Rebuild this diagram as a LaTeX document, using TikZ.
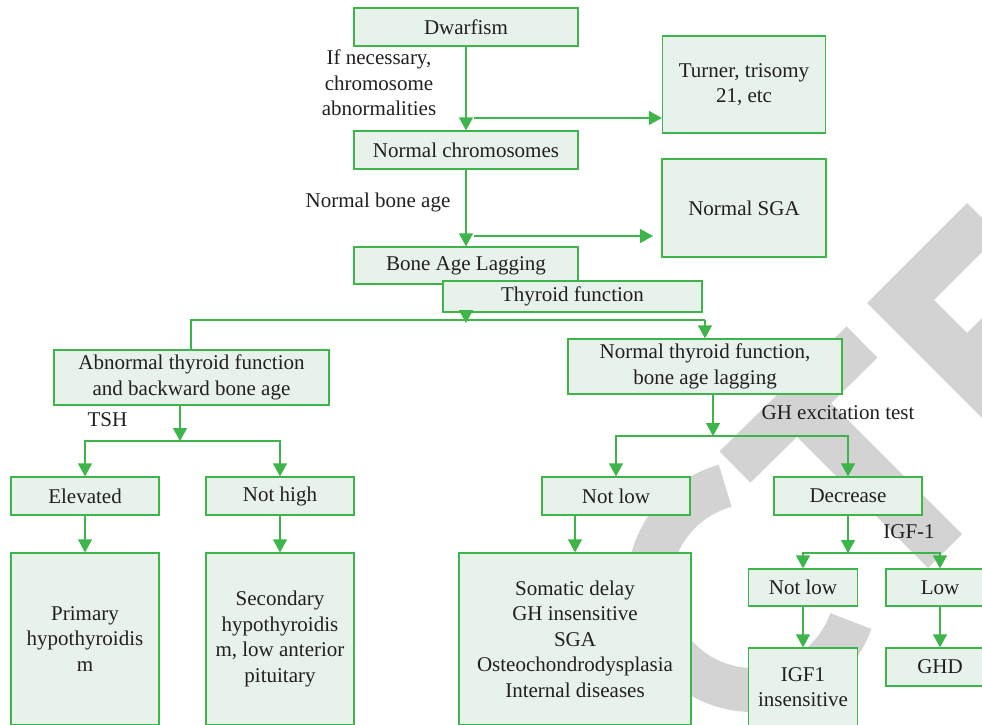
\documentclass[tikz,border=0pt]{standalone}
\usepackage{fontspec}
\setmainfont{Liberation Serif}
\usetikzlibrary{arrows.meta}
\definecolor{gline}{RGB}{61,181,74}
\definecolor{gfill}{RGB}{231,242,234}
\definecolor{wm}{RGB}{211,211,211}
\definecolor{tx}{RGB}{35,31,32}
\begin{document}
\begin{tikzpicture}[x=1pt,y=-1pt,
  box/.style={draw=gline, fill=gfill, line width=1.3pt, inner sep=0pt, align=center, text=tx, font=\fontsize{21}{25.5}\selectfont},
  lbl/.style={inner sep=0pt, align=center, text=tx, font=\fontsize{21}{25.5}\selectfont},
  ln/.style={draw=gline, line width=1.4pt},
  arr/.style={ln, -{Triangle[length=13pt,width=14pt]}}]
\useasboundingbox (0,0) rectangle (982,724);
\clip (0,0) rectangle (982,724);
% watermark
\fill[wm] (867,303) -- (967,203) -- (999,235) -- (934,300) -- (967,333) -- (1067,233) -- (1200,400) -- (1100,536) -- cycle;
\draw[wm, line width=44pt] (735,467) -- (862,342);
\draw[wm, line width=48pt] (798,404) -- (945,551);
\draw[wm, line width=44pt] plot[domain=19.7:254.5, samples=80] ({753+104*cos(\x)}, {586+104*sin(\x)});
% boxes
\node[box, minimum width=224, minimum height=38] (dwarf) at (466,27) {Dwarfism};
\node[box, minimum width=163, minimum height=97] (turner) at (744,84.5) {Turner, trisomy\\21, etc};
\node[box, minimum width=224, minimum height=38] (normchr) at (466,150) {Normal chromosomes};
\node[box, minimum width=164, minimum height=98] (nsga) at (744,208) {Normal SGA};
\node[box, minimum width=224, minimum height=37] (bal) at (466,265.5) {Bone Age Lagging};
\node[box, minimum width=259, minimum height=31] (thy) at (572.5,296.5) {Thyroid function};
\node[box, minimum width=275, minimum height=55] (abn) at (191.5,377.5) {Abnormal thyroid function\\and backward bone age};
\node[box, minimum width=274, minimum height=55] (nth) at (705,366.5) {Normal thyroid function,\\bone age lagging};
\node[box, minimum width=148, minimum height=38] (elev) at (85,496) {Elevated};
\node[box, minimum width=148, minimum height=38] (noth) at (280,496) {Not high};
\node[box, minimum width=148, minimum height=172] (prim) at (85,639) {Primary\\hypothyroidis\\m};
\node[box, minimum width=148, minimum height=172] (sec) at (280,639) {Secondary\\hypothyroidis\\m, low anterior\\pituitary};
\node[box, minimum width=148, minimum height=38] (nl1) at (616,496) {Not low};
\node[box, minimum width=148, minimum height=38] (dec) at (848,496) {Decrease};
\node[box, minimum width=232, minimum height=172] (som) at (575,639) {Somatic delay\\GH insensitive\\SGA\\Osteochondrodysplasia\\Internal diseases};
\node[box, minimum width=109, minimum height=37] (nl2) at (803,587.5) {Not low};
\node[box, minimum width=108, minimum height=37] (low) at (940,587.5) {Low};
\node[box, minimum width=109, minimum height=78] (igf) at (803,687) {IGF1\\insensitive};
\node[box, minimum width=108, minimum height=38] (ghd) at (940,667) {GHD};
% labels
\node[lbl] (lnec) at (379,83) {If necessary,\\chromosome\\abnormalities};
\node[lbl] (lnba) at (378,202) {Normal bone age};
\node[lbl] (ltsh) at (107.5,420) {TSH};
\node[lbl] (lgh) at (838,413) {GH excitation test};
\node[lbl] (ligf) at (909,532) {IGF-1};
% connectors
\coordinate (c1) at (474,118);
\coordinate (c2) at (474,236);
\coordinate (c2e) at (653,236);
\coordinate (j1) at (466,323);
\coordinate (bL) at (191,320);
\coordinate (bR) at (705,320);
\coordinate (j2) at (180,441);
\coordinate (j3) at (713,436);
\coordinate (j4) at (848,553);
\draw[arr] (dwarf.south) -- (normchr.north);
\draw[arr] (c1) -- (c1 -| turner.west);
\draw[arr] (normchr.south) -- (bal.north);
\draw[arr] (c2) -- (c2e);
\draw[arr] (thy.south -| j1) -- (j1);
\draw[ln] (abn.north -| bL) -- (bL) -- (bR);
\draw[arr] (bR) -- (bR |- nth.north);
\draw[arr] (abn.south -| j2) -- (j2);
\draw[arr] (j2) -| (elev.north);
\draw[arr] (j2) -| (noth.north);
\draw[arr] (elev.south) -- (prim.north);
\draw[arr] (noth.south) -- (sec.north);
\draw[arr] (nth.south -| j3) -- (j3);
\draw[arr] (j3) -| (nl1.north);
\draw[arr] (j3) -| (dec.north);
\draw[arr] (nl1.south -| som.north) -- (som.north);
\draw[arr] (dec.south) -- (j4);
\draw[arr] (j4) -| (nl2.north);
\draw[arr] (j4) -| (low.north);
\draw[arr] (nl2.south) -- (igf.north);
\draw[arr] (low.south) -- (ghd.north);
\end{tikzpicture}
\end{document}
